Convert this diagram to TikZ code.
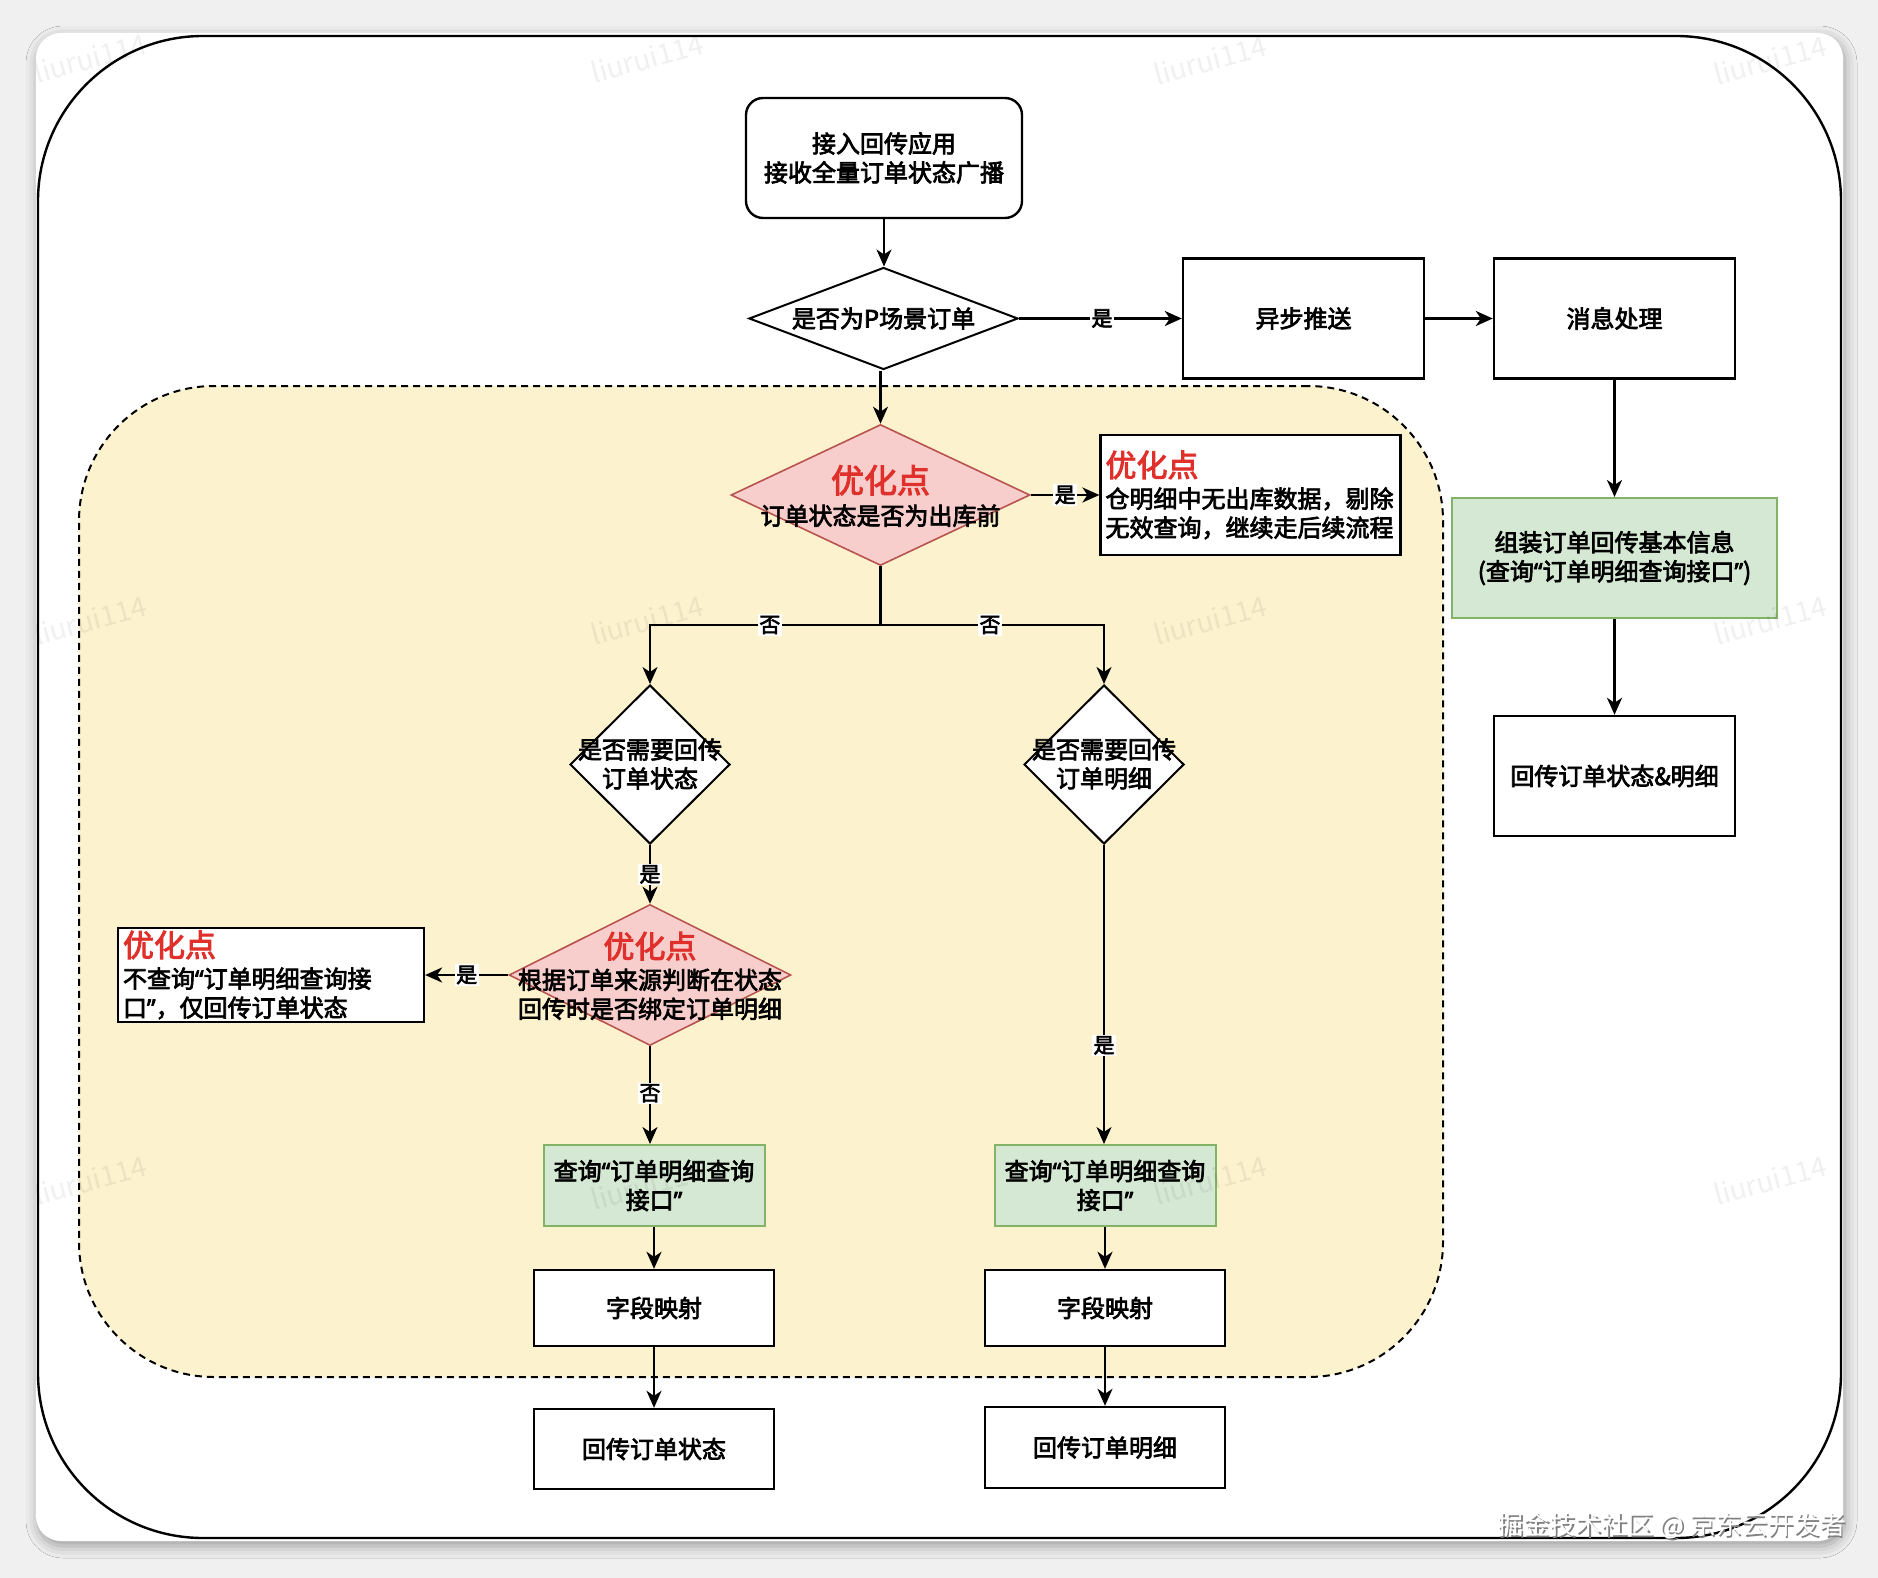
\documentclass[tikz,border=0pt]{standalone}
\usepackage{fontspec}
\setmainfont{Noto Sans CJK SC}
\newfontfamily\medfont{Noto Sans CJK SC}[FakeBold=3]
\newfontfamily\latfont{Noto Sans}[FakeBold=3]
\usetikzlibrary{arrows.meta,shapes.geometric,shadows.blur}
\definecolor{redtxt}{HTML}{E0302B}
\definecolor{pinkfill}{HTML}{F8CECC}
\definecolor{pinkline}{HTML}{B85450}
\definecolor{greenfill}{HTML}{D5E8D4}
\definecolor{greenline}{HTML}{82B366}
\definecolor{zonefill}{HTML}{FDF2CE}
\definecolor{pagebg}{HTML}{F0F0F0}
\newcommand\myfs[2]{\fontsize{#1pt}{#2pt}\selectfont}
\newcommand\redhead[1]{{\color{redtxt}\myfs{31}{34}#1}}
\newcommand\oq{{\latfont “}}
\newcommand\cq{{\latfont ”}}
\begin{document}
\begin{tikzpicture}[x=1pt,y=-1pt,
  boxbase/.style={draw, line width=2.4pt, fill=white, inner sep=0pt, align=center, font=\medfont\myfs{24}{29}},
  rbox/.style={boxbase, rectangle},
  gbox/.style={boxbase, rectangle, fill=greenfill, draw=greenline, line width=2pt},
  dia/.style={diamond, draw, line width=2pt, fill=white, inner sep=0pt},
  pdia/.style={dia, fill=pinkfill, draw=pinkline, line width=1.6pt},
  dtxt/.style={align=center, inner sep=0pt, font=\medfont\myfs{24}{29}},
  note/.style={rectangle, draw, line width=2.2pt, fill=white, align=left, inner xsep=5pt, inner ysep=0pt, font=\medfont\myfs{24}{29}},
  lbl/.style={fill=white, inner sep=1.5pt, font=\medfont\myfs{21}{21}},
  ln/.style={line width=2.2pt},
  arr/.style={line width=2.2pt, -{Stealth[length=17pt,width=15pt,inset=5pt]}},
  zone/.style={rectangle, draw, dash pattern=on 7pt off 5pt, line width=2pt, fill=zonefill, rounded corners=135pt, inner sep=0pt},
  wmark/.style={rotate=15, font=\myfs{28}{28}, text=black, opacity=0.06, inner sep=0pt},
]
\useasboundingbox (0,0) rectangle (1878,1578);
\fill[pagebg] (0,0) rectangle (1878,1578);
\node[rectangle, fill=white, rounded corners=25pt, minimum width=1807pt, minimum height=1508pt, inner sep=0pt,
  blur shadow={shadow xshift=2pt, shadow yshift=-5pt, shadow blur radius=12pt, shadow opacity=35}] (card) at (939.5,787) {};
\node[rectangle, draw, line width=2.4pt, rounded corners=165pt, minimum width=1803pt, minimum height=1502pt, inner sep=0pt] (frame) at (939.5,787) {};

\node[zone, minimum width=1364pt, minimum height=991pt] (zoneA) at (761,881.5) {};

% nodes
\node[rbox, rounded corners=17pt, minimum width=276pt, minimum height=120pt] (top) at (884,158) {接入回传应用\\接收全量订单状态广播};
\node[dia, minimum width=269pt, minimum height=102pt] (dP) at (883.5,318.5) {};
\node[dtxt] (dPt) at (883.5,318.5) {是否为P场景订单};
\node[rbox, minimum width=241pt, minimum height=120pt] (async) at (1303.5,318.5) {异步推送};
\node[rbox, minimum width=241pt, minimum height=120pt] (msg) at (1614.5,318.5) {消息处理};
\node[gbox, minimum width=325pt, minimum height=120pt] (gInfo) at (1614.5,558) {组装订单回传基本信息\\(查询\oq 订单明细查询接口\cq)};
\node[rbox, minimum width=241pt, minimum height=120pt] (ret3) at (1614.5,776) {回传订单状态\&明细};

\node[pdia, minimum width=299pt, minimum height=141pt] (pd1) at (880.5,495) {};
\node[dtxt] (pd1t) at (880.5,496) {{\color{redtxt}\myfs{33}{36}优化点}\\[3pt]订单状态是否为出库前};
\node[note, minimum width=295pt, minimum height=120pt, text width=290pt] (n1) at (1250.5,495) {\redhead{优化点}\\[2pt]仓明细中无出库数据，剔除\\无效查询，继续走后续流程};
\coordinate (br) at (880.5,625);

\node[dia, minimum width=160pt, minimum height=159pt] (dL) at (650,764.5) {};
\node[dtxt] (dLt) at (650,764) {是否需要回传\\订单状态};
\node[dia, minimum width=160pt, minimum height=159pt] (dR) at (1104,764.5) {};
\node[dtxt] (dRt) at (1104,764) {是否需要回传\\订单明细};

\node[pdia, minimum width=282pt, minimum height=141pt] (pd2) at (650,975) {};
\node[dtxt] (pd2t) at (650,976) {\redhead{优化点}\\[2pt]根据订单来源判断在状态\\回传时是否绑定订单明细};
\node[note, minimum width=306pt, minimum height=94pt, text width=296pt] (n2) at (271,975) {\redhead{优化点}\\[2pt]不查询\oq 订单明细查询接\\口\cq，仅回传订单状态};

\node[gbox, minimum width=221pt, minimum height=81pt] (gL) at (654,1185.5) {查询\oq 订单明细查询\\接口\cq};
\node[gbox, minimum width=221pt, minimum height=81pt] (gR) at (1105,1185.5) {查询\oq 订单明细查询\\接口\cq};
\node[rbox, minimum width=240pt, minimum height=76pt] (mapL) at (654,1308) {字段映射};
\node[rbox, minimum width=240pt, minimum height=76pt] (mapR) at (1105,1308) {字段映射};
\node[rbox, minimum width=240pt, minimum height=80pt] (retL) at (654,1449) {回传订单状态};
\node[rbox, minimum width=240pt, minimum height=81pt] (retR) at (1105,1447.5) {回传订单明细};

% connectors
\draw[arr] (top) -- (top.south |- dP.north);
\draw[arr] (dP.east) -- node[lbl,pos=0.51] (l0) {是} (dP.east -| async.west);
\draw[arr] (async) -- (msg);
\draw[arr] (msg) -- (gInfo);
\draw[arr] (gInfo) -- (ret3);
\draw[arr] (pd1.north |- dP.south) -- (pd1.north);
\draw[arr] (pd1.east) -- node[lbl] (l1) {是} (n1.west);
\draw[ln] (pd1.south) -- (br);
\draw[arr] (br) -| node[lbl,pos=0.24] (l2) {否} (dL.north);
\draw[arr] (br) -| node[lbl,pos=0.245] (l3) {否} (dR.north);
\draw[arr] (dL.south) -- node[lbl] (l4) {是} (pd2.north);
\draw[arr] (pd2.west) -- node[lbl] (l5) {是} (n2.east);
\draw[arr] (pd2.south) -- node[lbl,pos=0.48] (l6) {否} (pd2.south |- gL.north);
\draw[arr] (dR.south) -- node[lbl,pos=0.67] (l7) {是} (dR.south |- gR.north);
\draw[arr] (gL) -- (mapL);
\draw[arr] (mapL) -- (retL);
\draw[arr] (gR) -- (mapR);
\draw[arr] (mapR) -- (retR);

% watermarks
\begin{scope}
\clip[rounded corners=25pt] (36,33) rectangle (1843,1541);
\node[wmark] (w1) at (90,58) {liurui114};
\node[wmark] (w2) at (647,58) {liurui114};
\node[wmark] (w3) at (1210,60) {liurui114};
\node[wmark] (w4) at (1770,60) {liurui114};
\node[wmark] (w5) at (90,620) {liurui114};
\node[wmark] (w6) at (647,620) {liurui114};
\node[wmark] (w7) at (1210,620) {liurui114};
\node[wmark] (w8) at (1770,620) {liurui114};
\node[wmark] (w9) at (90,1180) {liurui114};
\node[wmark] (w10) at (647,1185) {liurui114};
\node[wmark] (w11) at (1210,1180) {liurui114};
\node[wmark] (w12) at (1770,1180) {liurui114};
\end{scope}
\node[font=\myfs{26}{26}, text=black!50, inner sep=0pt] (jj0) at (1673.5,1527.5) {掘金技术社区 @ 京东云开发者};
\node[font=\myfs{26}{26}, text=white, inner sep=0pt] (jj1) at (1672,1526) {掘金技术社区 @ 京东云开发者};
\end{tikzpicture}
\end{document}
